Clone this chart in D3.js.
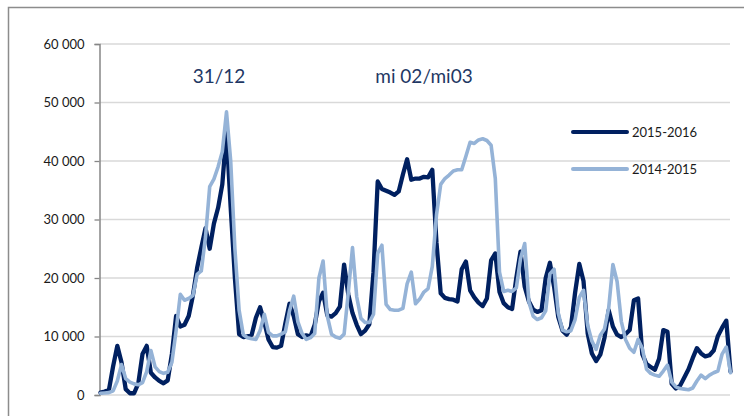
<!DOCTYPE html>
<html>
<head>
<meta charset="utf-8">
<script src="https://cdn.jsdelivr.net/npm/d3@7"></script>
<style>
  body { margin: 0; background: #fff; }
  svg { display: block; font-family: Lato, "Open Sans", sans-serif; }
</style>
</head>
<body>
<div id="chart"></div>
<script>
// daily values, 1 Dec -> 30 Apr
var series2016 = [
  400, 600, 850, 4900, 8400, 5600, 1000, 300, 300, 2000,
  7000, 8400, 3800, 3000, 2400, 2000, 2500, 7000, 13500, 11700,
  12000, 13500, 17000, 21700, 25200, 28500, 25000, 29300, 32000, 36000,
  45000, 32000, 20000, 10400, 9900, 10000, 10300, 13200, 15000, 12500,
  9500, 8200, 8100, 8400, 12200, 15600, 13500, 10400, 9900, 10200,
  10000, 12000, 16000, 17500, 13600, 13400, 14000, 15100, 22300, 17200,
  14000, 12000, 10400, 11000, 12100, 21000, 36500, 35200, 34900, 34600,
  34200, 34800, 37700, 40300, 36800, 37000, 37000, 37300, 37200, 38500,
  26000, 17400, 16600, 16400, 16300, 16000, 21500, 22800, 17900, 16700,
  15800, 15200, 16500, 23000, 24200, 17600, 15700, 15000, 14700, 20000,
  24500, 18500, 16000, 14600, 14200, 14500, 20000, 22600, 18500, 13300,
  11000, 10300, 11600, 17500, 22400, 19500, 10500, 7100, 5800, 6900,
  9800, 14500, 11700, 10300, 9900, 10400, 11100, 16200, 16500, 7000,
  5300, 4800, 4300, 6200, 11100, 10800, 1900, 1100, 1600, 3000,
  4400, 6300, 8000, 7100, 6600, 6800, 7600, 10100, 11500, 12700,
  4000
];
var series2015 = [
  300, 350, 400, 700, 2400, 5200, 2800, 2200, 1900, 1750,
  2100, 4000, 7600, 4800, 4000, 3700, 3900, 5600, 11000, 17200,
  16200, 16500, 17000, 20600, 21200, 27000, 35600, 36900, 39000, 41600,
  48400, 40000, 25000, 14500, 10300, 9800, 9600, 9500, 11000, 13800,
  10700, 10100, 10100, 10400, 10800, 14400, 16900, 12500, 10500, 9500,
  9800, 10500, 20000, 22900, 13500, 10400, 9900, 9700, 10400, 17500,
  25200, 16800, 13100, 12400, 12400, 13800, 24200, 25600, 15500, 14600,
  14500, 14500, 14800, 19000, 21000, 15600, 16400, 17600, 18200, 22000,
  30800, 36000, 37000, 37600, 38300, 38500, 38500, 40800, 43200, 43000,
  43600, 43800, 43500, 42700, 37000, 21000, 17700, 17900, 17700, 18300,
  23300, 25900, 15900, 13500, 12900, 13200, 14400, 20700, 21500, 14000,
  11100, 10800, 11000, 12900, 16700, 17900, 11900, 9200, 7800, 10200,
  11300, 14900, 22300, 19400, 12600, 9500, 8000, 7300, 9500, 8000,
  4400, 3700, 3400, 3200, 4100, 5100, 2200, 1400, 1100, 1000,
  900, 1200, 2400, 3400, 2800, 3400, 3800, 4100, 7000, 8200,
  3800
];
var seriesNames = ["2015-2016", "2014-2015"];
var seriesColors = ["#002060", "#95b3d7"];
var yTicks = [0, 10000, 20000, 30000, 40000, 50000, 60000];
var notes = ["31/12", "mi 02/mi03"];

var W = 744, H = 416;
var svg = d3.select("#chart").append("svg")
    .attr("width", W)
    .attr("height", H);

// outer frame (only top and left visible)
svg.append("path")
    .attr("d", "M8.5,416 L8.5,7.5 L744,7.5")
    .attr("fill", "none")
    .attr("stroke", "#8c8c8c")
    .attr("stroke-width", 1.5);

var x = d3.scaleLinear()
    .domain([0, series2016.length - 1])
    .range([100.5, 730.5]);

var y = d3.scaleLinear()
    .domain([0, 60000])
    .range([395, 44]);

var fr = d3.formatLocale({ decimal: ",", thousands: " ", grouping: [3], currency: ["", ""] });

// gridlines
svg.append("g").selectAll("line")
    .data(yTicks)
    .join("line")
    .attr("x1", 100)
    .attr("x2", 730)
    .attr("y1", function(d){ return y(d); })
    .attr("y2", function(d){ return y(d); })
    .attr("stroke", "#d9d9d9")
    .attr("stroke-width", 1.3);

// y axis
var yAxis = svg.append("g")
    .attr("transform", "translate(99.5,0)")
    .call(d3.axisLeft(y).tickValues(yTicks).tickSize(5).tickPadding(10).tickFormat(fr.format(",")));
yAxis.select(".domain").attr("stroke", "#868686").attr("stroke-width", 1.5);
yAxis.selectAll(".tick line").attr("stroke", "#868686").attr("stroke-width", 1.3);
yAxis.selectAll(".tick text")
    .attr("fill", "#1a1a1a")
    .attr("font-size", "13px")
    .attr("font-family", "Lato, sans-serif");

// lines
var line = d3.line()
    .x(function(d, i){ return x(i); })
    .y(function(d){ return y(d); });

[series2016, series2015].forEach(function(s, k){
    svg.append("path")
        .datum(s)
        .attr("d", line)
        .attr("fill", "none")
        .attr("stroke", seriesColors[k])
        .attr("stroke-width", k == 0 ? 4.3 : 3.6)
        .attr("stroke-linejoin", "round")
        .attr("stroke-linecap", "round");
});

// annotations
svg.append("text")
    .attr("x", 219)
    .attr("y", 83)
    .attr("text-anchor", "middle")
    .attr("font-size", "19px")
    .attr("fill", "#1f3864")
    .text(notes[0]);

svg.append("text")
    .attr("x", 424)
    .attr("y", 83)
    .attr("text-anchor", "middle")
    .attr("font-size", "19px")
    .attr("fill", "#1f3864")
    .text(notes[1]);

// legend
var legend = svg.append("g").attr("transform", "translate(573,132)");
seriesNames.forEach(function(name, i){
    var row = legend.append("g").attr("transform", "translate(0," + (i * 37) + ")");
    row.append("line")
        .attr("x1", 0)
        .attr("x2", 54)
        .attr("stroke", seriesColors[i])
        .attr("stroke-width", 4)
        .attr("stroke-linecap", "round");
    row.append("text")
        .attr("x", 59)
        .attr("y", 4.5)
        .attr("font-size", "13px")
        .attr("fill", "#1a1a1a")
        .text(name);
});
</script>
</body>
</html>
